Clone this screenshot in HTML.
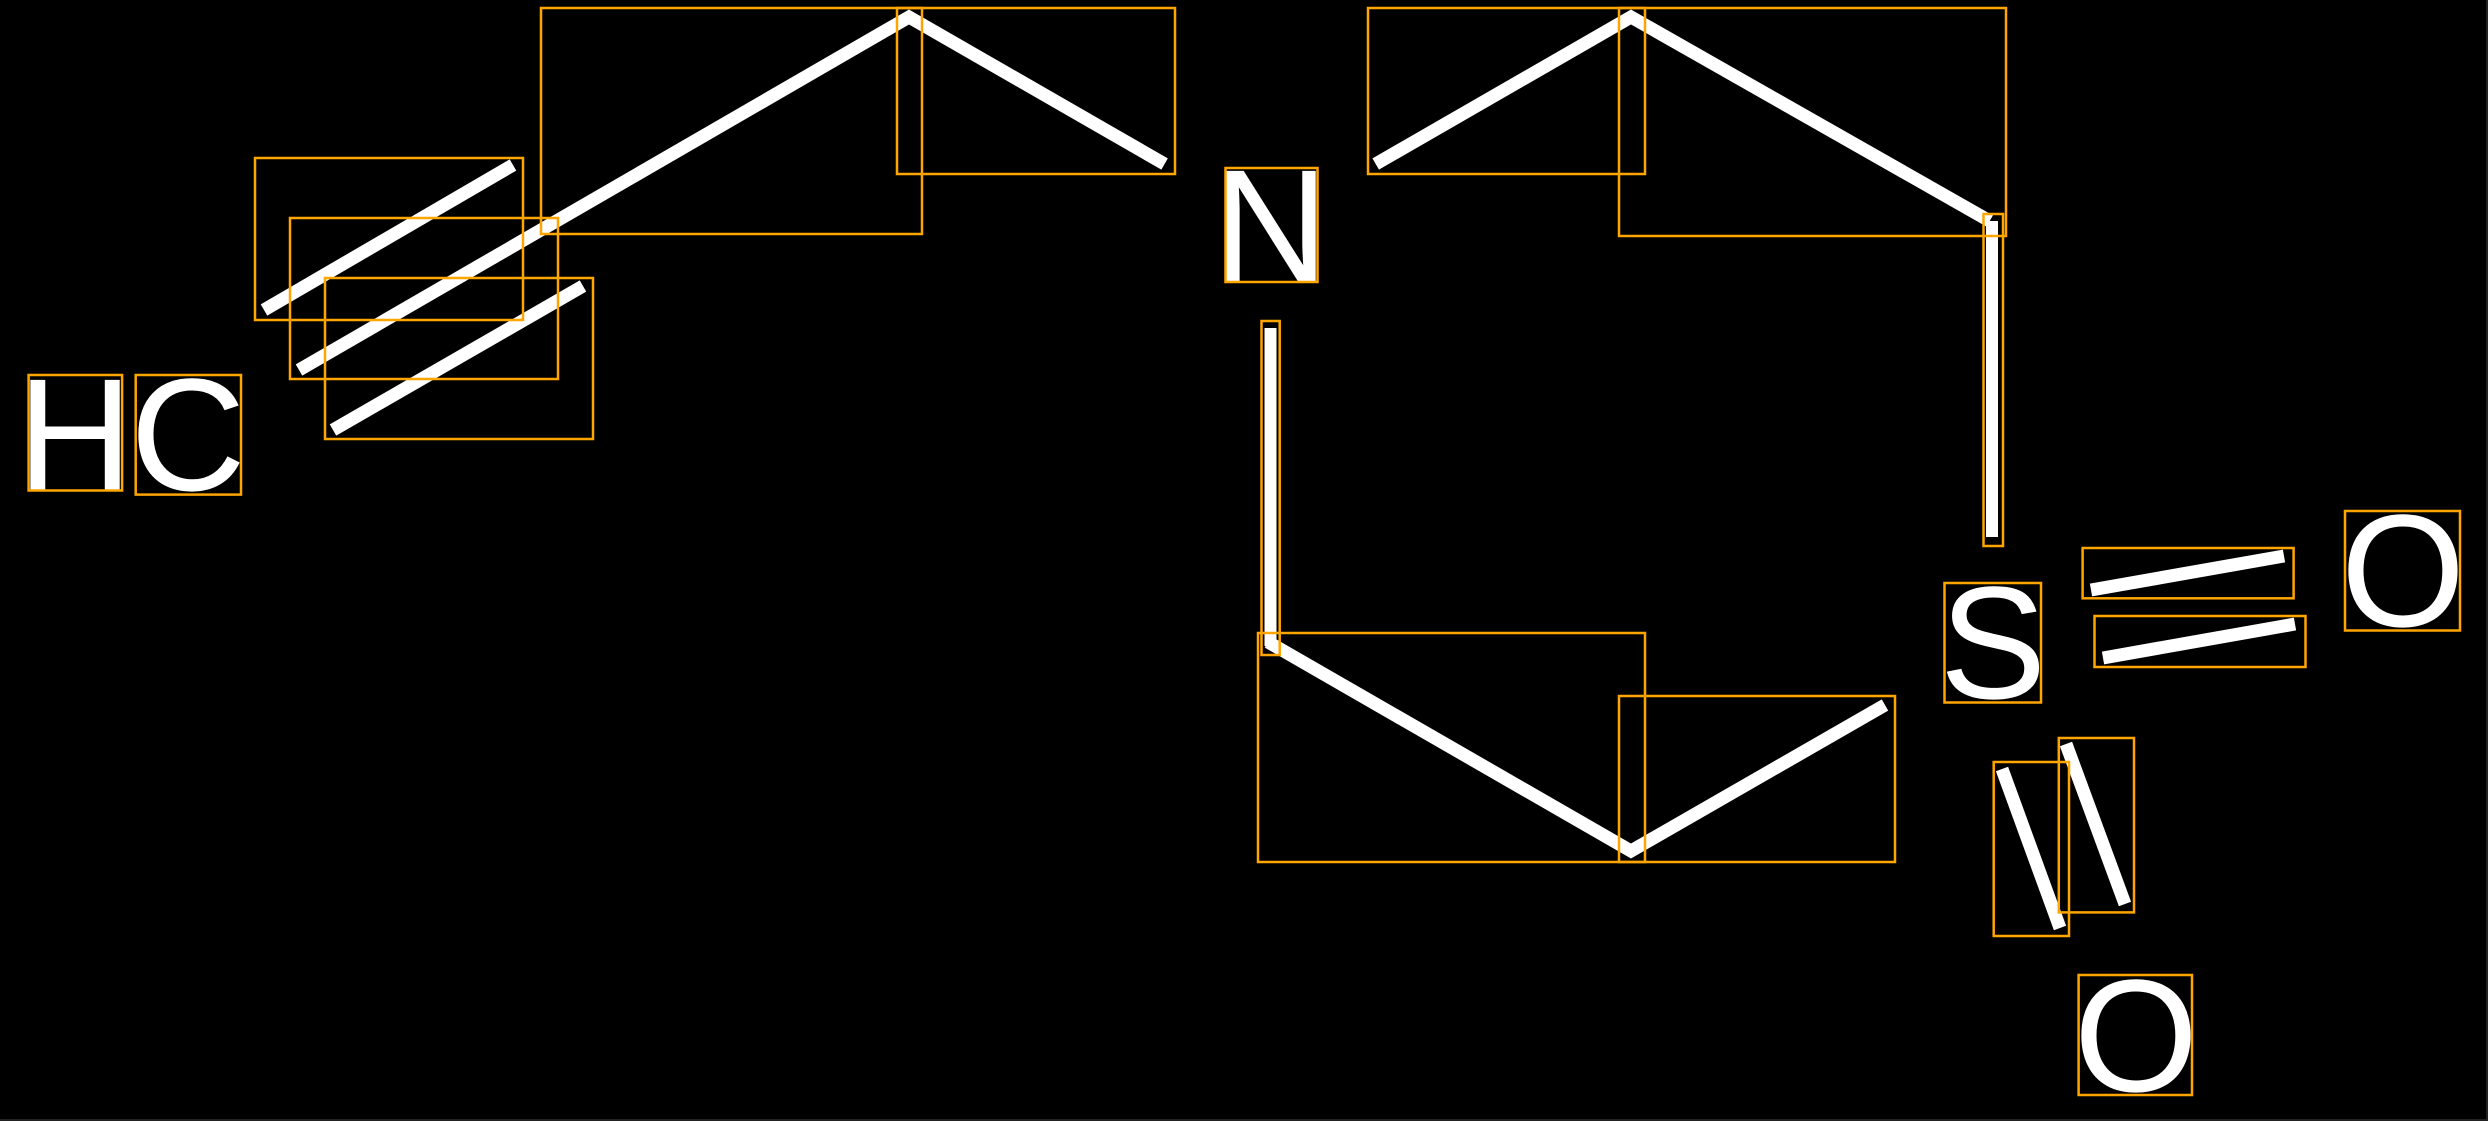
<!DOCTYPE html>
<html><head><meta charset="utf-8"><style>
html,body{margin:0;padding:0;background:#000;}
svg{display:block;}
</style></head><body>
<svg width="2488" height="1121" viewBox="0 0 2488 1121" xmlns="http://www.w3.org/2000/svg">
<rect x="0" y="0" width="2488" height="1121" fill="#000"/>
<g fill="none" stroke="#fff" stroke-width="13" stroke-linecap="butt" stroke-linejoin="miter">
<polyline points="299,370 909,17 1164.6,164"/>
<polyline points="1375.7,164 1631,17 1989.7,221"/>
<polyline points="1268,642 1631,851 1885,705"/>
<line x1="264" y1="310" x2="513" y2="165"/>
<line x1="333" y1="430" x2="583" y2="286"/>
<line x1="2091" y1="590" x2="2284" y2="556"/>
<line x1="2103" y1="658" x2="2295" y2="624"/>
<line x1="2002" y1="769" x2="2060" y2="928"/>
<line x1="2066" y1="744" x2="2125" y2="904"/>
</g>
<g fill="none" stroke="#fff" stroke-width="12">
<line x1="1270.5" y1="328" x2="1270.5" y2="646"/>
<line x1="1992" y1="221" x2="1992" y2="537"/>
</g>
<g fill="#fff" font-family="'Liberation Sans', sans-serif" font-size="160" text-anchor="middle">
<text x="75" y="490">H</text>
<text x="188" y="490">C</text>
<text x="1271" y="281">N</text>
<text x="1993" y="698">S</text>
<text x="2403" y="626">O</text>
<text x="2136" y="1091">O</text>
</g>
<g fill="none" stroke="#FFA500" stroke-width="2.5">
<rect x="541" y="8" width="381" height="226"/>
<rect x="897" y="8" width="278" height="166"/>
<rect x="255" y="158" width="268" height="162"/>
<rect x="290" y="218" width="268" height="161"/>
<rect x="325" y="278" width="268" height="161"/>
<rect x="28.6" y="375" width="93.5" height="115.5"/>
<rect x="135.7" y="375" width="105.3" height="119.6"/>
<rect x="1225.5" y="168" width="92" height="114"/>
<rect x="1368" y="8" width="277" height="166"/>
<rect x="1619" y="8" width="387" height="228"/>
<rect x="1983.5" y="214" width="19.5" height="332"/>
<rect x="1261.5" y="321" width="18.2" height="334"/>
<rect x="1258" y="633" width="387" height="229"/>
<rect x="1619" y="696" width="276" height="166"/>
<rect x="1944.5" y="583" width="96.5" height="119.5"/>
<rect x="2082.6" y="548" width="211" height="50.3"/>
<rect x="2094.5" y="616" width="211" height="51"/>
<rect x="2345" y="511" width="115" height="119.5"/>
<rect x="1993.7" y="762" width="75.3" height="174"/>
<rect x="2058.8" y="738" width="75.2" height="174.4"/>
<rect x="2078.6" y="975" width="113.4" height="120"/>
</g>
<rect x="2486" y="0" width="2" height="1121" fill="#222"/>
<rect x="0" y="1119" width="2488" height="2" fill="#222"/>
</svg>
</body></html>
